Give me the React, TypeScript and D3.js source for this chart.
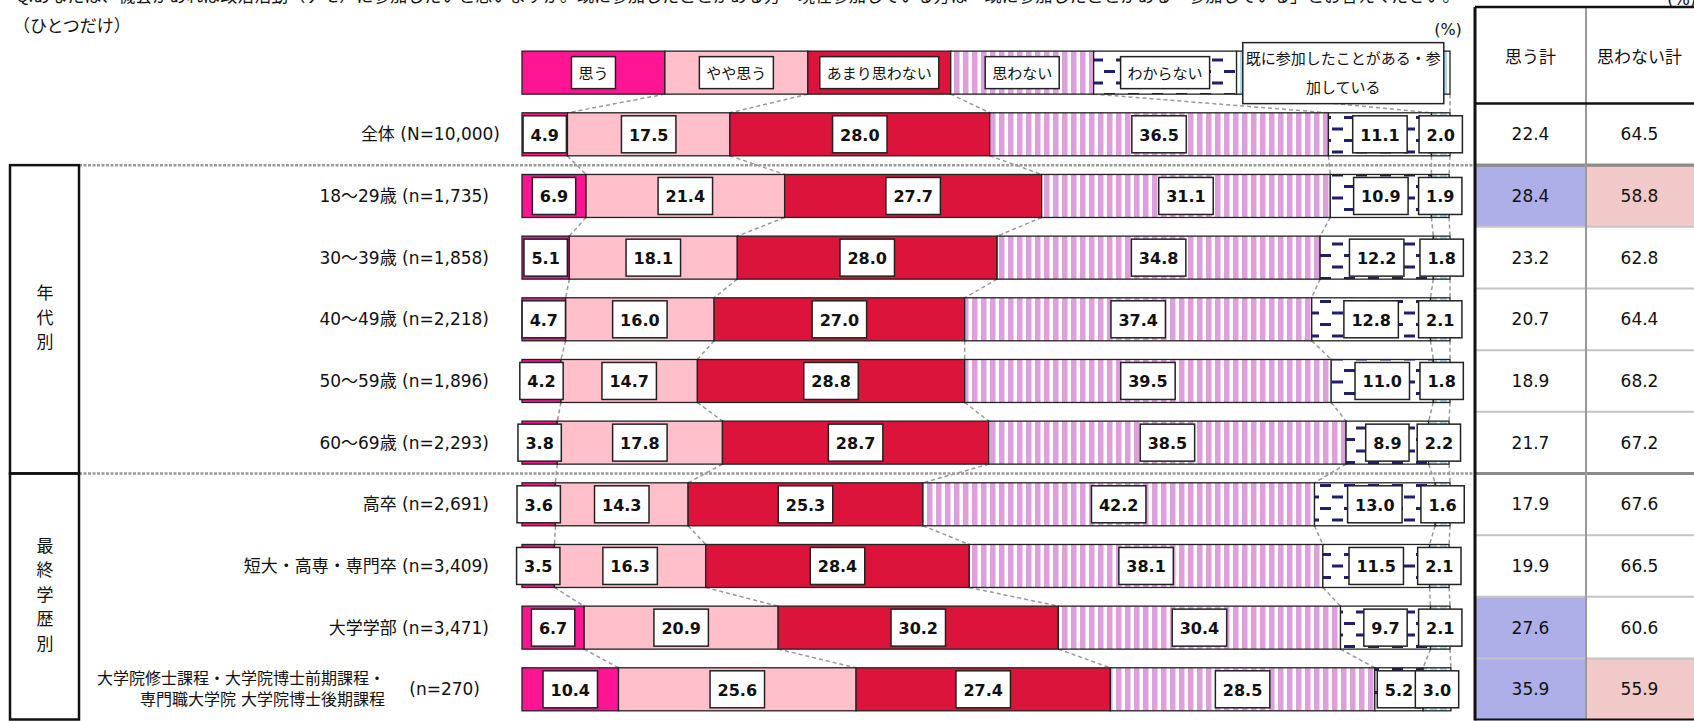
import React from "react";
import * as d3 from "d3";

// 回答者の属性（行）
const categories = [
  "全体",
  "18～29歳",
  "30～39歳",
  "40～49歳",
  "50～59歳",
  "60～69歳",
  "高卒",
  "短大・高専・専門卒",
  "大学学部",
  "大学院修士課程・大学院博士前期課程・\n専門職大学院 大学院博士後期課程",
];
const sampleSizes = [
  "(N=10,000)",
  "(n=1,735)",
  "(n=1,858)",
  "(n=2,218)",
  "(n=1,896)",
  "(n=2,293)",
  "(n=2,691)",
  "(n=3,409)",
  "(n=3,471)",
  "(n=270)",
];
const groups = [
  { label: "年代別", from: 1, to: 5 },
  { label: "最終学歴別", from: 6, to: 9 },
];

const seriesNames = [
  "思う",
  "やや思う",
  "あまり思わない",
  "思わない",
  "わからない",
  "既に参加したことがある・参加している",
];
const omou = [4.9, 6.9, 5.1, 4.7, 4.2, 3.8, 3.6, 3.5, 6.7, 10.4];
const yayaOmou = [17.5, 21.4, 18.1, 16.0, 14.7, 17.8, 14.3, 16.3, 20.9, 25.6];
const amariOmowanai = [28.0, 27.7, 28.0, 27.0, 28.8, 28.7, 25.3, 28.4, 30.2, 27.4];
const omowanai = [36.5, 31.1, 34.8, 37.4, 39.5, 38.5, 42.2, 38.1, 30.4, 28.5];
const wakaranai = [11.1, 10.9, 12.2, 12.8, 11.0, 8.9, 13.0, 11.5, 9.7, 5.2];
const sankaZumi = [2.0, 1.9, 1.8, 2.1, 1.8, 2.2, 1.6, 2.1, 2.1, 3.0];

// 右側の表
const tableHeaders = ["思う計", "思わない計"];
const omouTotal = [22.4, 28.4, 23.2, 20.7, 18.9, 21.7, 17.9, 19.9, 27.6, 35.9];
const omowanaiTotal = [64.5, 58.8, 62.8, 64.4, 68.2, 67.2, 67.6, 66.5, 60.6, 55.9];

const titleText =
  "Q.あなたは、機会があれば政治活動（デモ）に参加したいと思いますか。既に参加したことがある方・現在参加している方は「既に参加したことがある・参加している」とお答えください。";

const W = 1694;
const H = 721;
const JP = '"Noto Sans CJK JP", sans-serif';
const NUM = '"DejaVu Sans", "Noto Sans CJK JP", sans-serif';

const seriesFill = ["#ff1493", "#ffc0cb", "#dc143c", "url(#pStripe)", "url(#pDash)", "url(#pBlue)"];

const ctx = document.createElement("canvas").getContext("2d");
const textW = (t, font) => {
  if (!ctx) return t.length * 9;
  ctx.font = font;
  return ctx.measureText(t).width;
};

export default function App() {
  const keys = ["s0", "s1", "s2", "s3", "s4", "s5"];
  const table = categories.map((c, i) => ({
    cat: c,
    s0: omou[i],
    s1: yayaOmou[i],
    s2: amariOmowanai[i],
    s3: omowanai[i],
    s4: wakaranai[i],
    s5: sankaZumi[i],
  }));
  const stacked = d3.stack().keys(keys)(table);

  const x = d3.scaleLinear().domain([0, 100]).range([522, 1450]);
  const y = d3.scaleLinear().domain([0, categories.length - 1]).range([134.3, 689.3]);
  const step = y(1) - y(0);
  const barH = 43;

  // 凡例バーの区切り（先頭5つは同じ幅）
  const legendEdges = d3.range(6).map((i) => x(i * 15.4)).concat([x(100)]);
  const legendY = y(-1);

  const edgesOf = (i) => [x(0)].concat(stacked.map((s) => x(s[i][1])));

  const connectors = [];
  for (let i = 0; i < categories.length; i++) {
    const top = i === 0 ? legendEdges : edgesOf(i - 1);
    const yTop = i === 0 ? legendY + barH / 2 : y(i - 1) + barH / 2;
    const cur = edgesOf(i);
    for (let k = 1; k <= 6; k++) {
      connectors.push({ x1: top[k], y1: yTop, x2: cur[k], y2: y(i) - barH / 2, key: i + "-" + k });
    }
  }

  const sepYs = [y(0) + step / 2, y(5) + step / 2];
  const tL = 1475;
  const tM = 1586;
  const tR = 1697;
  const tTop = 7;
  const headBottom = y(0) - step / 2;
  const tBottom = 719.5;

  const boldFont = "bold 16px " + NUM;
  const legFont = "15px " + JP;

  return (
    <svg
      width={W}
      height={H}
      style={{ position: "absolute", left: 0, top: 0, display: "block", background: "#fff" }}
    >
      <defs>
        <pattern id="pStripe" patternUnits="userSpaceOnUse" width="9" height="8">
          <rect width="9" height="8" fill="#fff" />
          <rect width="5.5" height="8" fill="#dda0dd" />
        </pattern>
        <pattern id="pDash" patternUnits="userSpaceOnUse" width="24" height="23">
          <rect width="24" height="23" fill="#fff" />
          <rect x="0" y="1" width="11" height="3" fill="#1f1f6e" />
          <rect x="12" y="12.5" width="11" height="3" fill="#1f1f6e" />
        </pattern>
        <pattern id="pBlue" patternUnits="userSpaceOnUse" width="10" height="10">
          <rect width="10" height="10" fill="#fff" />
          <rect width="7" height="10" fill="#add8e6" />
        </pattern>
      </defs>

      {/* タイトル（上端で切れている） */}
      <text x={16} y={2} fontFamily={JP} fontSize={17} fill="#111">
        {titleText}
      </text>
      <text x={1667} y={5} fontFamily={NUM} fontSize={17} fill="#111">
        (%)
      </text>
      <text x={13} y={24} fontFamily={JP} fontSize={17} fill="#111" dominantBaseline="central">
        （ひとつだけ）
      </text>
      <text x={1448} y={29} fontFamily={NUM} fontSize={16} fill="#111" textAnchor="middle" dominantBaseline="central">
        (%)
      </text>

      {/* 区切り線 */}
      {sepYs.map((sy) => (
        <g key={sy}>
          <line x1={79} x2={tL} y1={sy} y2={sy} stroke="#9a9a9a" strokeWidth={2.5} strokeDasharray="3,1.5" />
          <line x1={tL} x2={tR} y1={sy} y2={sy} stroke="#8a8a8a" strokeWidth={3} />
        </g>
      ))}

      {/* グループ枠 */}
      {groups.map((g) => {
        const top = y(g.from) - step / 2;
        const bottom = Math.min(y(g.to) + step / 2, tBottom);
        const chars = Array.from(g.label);
        const cy = (top + bottom) / 2 - 3;
        return (
          <g key={g.label}>
            <rect x={10} y={top} width={69} height={bottom - top} fill="none" stroke="#111" strokeWidth={2.5} />
            {chars.map((ch, j) => (
              <text
                key={j}
                x={45}
                y={cy + (j - (chars.length - 1) / 2) * 24.5}
                fontFamily={JP}
                fontSize={17}
                textAnchor="middle"
                dominantBaseline="central"
                fill="#111"
              >
                {ch}
              </text>
            ))}
          </g>
        );
      })}

      {/* 行ラベル */}
      {categories.map((c, i) => {
        const lines = c.split("\n");
        if (lines.length > 1) {
          return (
            <g key={c}>
              {lines.map((l, j) => (
                <text
                  key={j}
                  x={385}
                  y={y(i) + (j === 0 ? -11 : 10)}
                  fontFamily={NUM}
                  fontSize={16}
                  textAnchor="end"
                  dominantBaseline="central"
                  fill="#111"
                >
                  {l}
                </text>
              ))}
              <text x={480} y={y(i)} fontFamily={NUM} fontSize={17} textAnchor="end" dominantBaseline="central" fill="#111">
                {sampleSizes[i]}
              </text>
            </g>
          );
        }
        return (
          <text
            key={c}
            x={i === 0 ? 500 : 489}
            y={y(i)}
            fontFamily={NUM}
            fontSize={17}
            textAnchor="end"
            dominantBaseline="central"
            fill="#111"
          >
            {c + " " + sampleSizes[i]}
          </text>
        );
      })}

      {/* 系列線 */}
      {connectors.map((l) => (
        <line key={l.key} x1={l.x1} y1={l.y1} x2={l.x2} y2={l.y2} stroke="#999" strokeWidth={1.5} strokeDasharray="4,3" />
      ))}

      {/* 凡例バー */}
      {seriesNames.map((n, k) => (
        <rect
          key={n}
          x={legendEdges[k]}
          y={legendY - barH / 2}
          width={legendEdges[k + 1] - legendEdges[k]}
          height={barH}
          fill={seriesFill[k]}
          stroke="#222"
          strokeWidth={1.3}
        />
      ))}
      {seriesNames.map((n, k) => {
        const cx = (legendEdges[k] + legendEdges[k + 1]) / 2;
        if (k === 5) {
          const l1 = n.slice(0, 13);
          const l2 = n.slice(13);
          const bw = textW(l1, legFont) + 6;
          return (
            <g key={n}>
              <rect x={cx - bw / 2} y={legendY - 30} width={bw} height={61} fill="#fff" stroke="#222" strokeWidth={1.5} />
              <text x={cx} y={legendY - 15} fontFamily={JP} fontSize={15} textAnchor="middle" dominantBaseline="central" fill="#111">
                {l1}
              </text>
              <text x={cx} y={legendY + 14} fontFamily={JP} fontSize={15} textAnchor="middle" dominantBaseline="central" fill="#111">
                {l2}
              </text>
            </g>
          );
        }
        const bw = textW(n, legFont) + 14;
        return (
          <g key={n}>
            <rect x={cx - bw / 2} y={legendY - 16} width={bw} height={32} fill="#fff" stroke="#222" strokeWidth={1.5} />
            <text x={cx} y={legendY} fontFamily={JP} fontSize={15} textAnchor="middle" dominantBaseline="central" fill="#111">
              {n}
            </text>
          </g>
        );
      })}

      {/* 帯グラフ */}
      {stacked.map((s, k) =>
        s.map((d, i) => (
          <rect
            key={k + "-" + i}
            x={x(d[0])}
            y={y(i) - barH / 2}
            width={x(d[1]) - x(d[0])}
            height={barH}
            fill={seriesFill[k]}
            stroke="#222"
            strokeWidth={1.3}
          />
        ))
      )}
      {stacked.map((s, k) =>
        s.map((d, i) => {
          const v = d[1] - d[0];
          const label = v.toFixed(1);
          const bw = textW(label, boldFont) + 15;
          const cx = (x(d[0]) + x(d[1])) / 2;
          return (
            <g key={"l" + k + "-" + i}>
              <rect x={cx - bw / 2} y={y(i) - 18.5} width={bw} height={37} fill="#fff" stroke="#222" strokeWidth={1.5} />
              <text
                x={cx}
                y={y(i) + 1}
                fontFamily={NUM}
                fontWeight="bold"
                fontSize={16}
                textAnchor="middle"
                dominantBaseline="central"
                fill="#111"
              >
                {label}
              </text>
            </g>
          );
        })
      )}

      {/* 右の集計表 */}
      {categories.map((c, i) => {
        const top = y(i) - step / 2;
        const h = step;
        const blue = omouTotal[i] - omouTotal[0] >= 5;
        const pink = omowanaiTotal[i] - omowanaiTotal[0] <= -5;
        return (
          <g key={"t" + i}>
            {blue && <rect x={tL} y={top} width={tM - tL} height={h} fill="#aeaee8" />}
            {pink && <rect x={tM} y={top} width={tR - tM} height={h} fill="#f2c9c9" />}
            <text x={(tL + tM) / 2} y={y(i)} fontFamily={NUM} fontSize={17} textAnchor="middle" dominantBaseline="central" fill="#111">
              {omouTotal[i].toFixed(1)}
            </text>
            <text x={(tM + tR) / 2 - 2} y={y(i)} fontFamily={NUM} fontSize={17} textAnchor="middle" dominantBaseline="central" fill="#111">
              {omowanaiTotal[i].toFixed(1)}
            </text>
            {i > 0 && i !== 6 && (
              <line x1={tL} x2={tR} y1={top} y2={top} stroke="#c4c4c4" strokeWidth={2} />
            )}
          </g>
        );
      })}
      {sepYs.map((sy) => (
        <line key={"ts" + sy} x1={tL} x2={tR} y1={sy} y2={sy} stroke="#8a8a8a" strokeWidth={3} />
      ))}
      {tableHeaders.map((hd, j) => (
        <text
          key={hd}
          x={j === 0 ? (tL + tM) / 2 : (tM + tR) / 2 - 2}
          y={(tTop + headBottom) / 2}
          fontFamily={JP}
          fontSize={17}
          textAnchor="middle"
          dominantBaseline="central"
          fill="#111"
        >
          {hd}
        </text>
      ))}
      <line x1={tM} x2={tM} y1={tTop} y2={tBottom} stroke="#9a9a9a" strokeWidth={2} />
      <line x1={tL} x2={tR} y1={tTop} y2={tTop} stroke="#111" strokeWidth={2.5} />
      <line x1={tL} x2={tR} y1={headBottom} y2={headBottom} stroke="#111" strokeWidth={2.5} />
      <line x1={tL} x2={tR} y1={tBottom} y2={tBottom} stroke="#111" strokeWidth={2} />
      <line x1={tL} x2={tL} y1={tTop} y2={tBottom + 1} stroke="#111" strokeWidth={3} />
    </svg>
  );
}
